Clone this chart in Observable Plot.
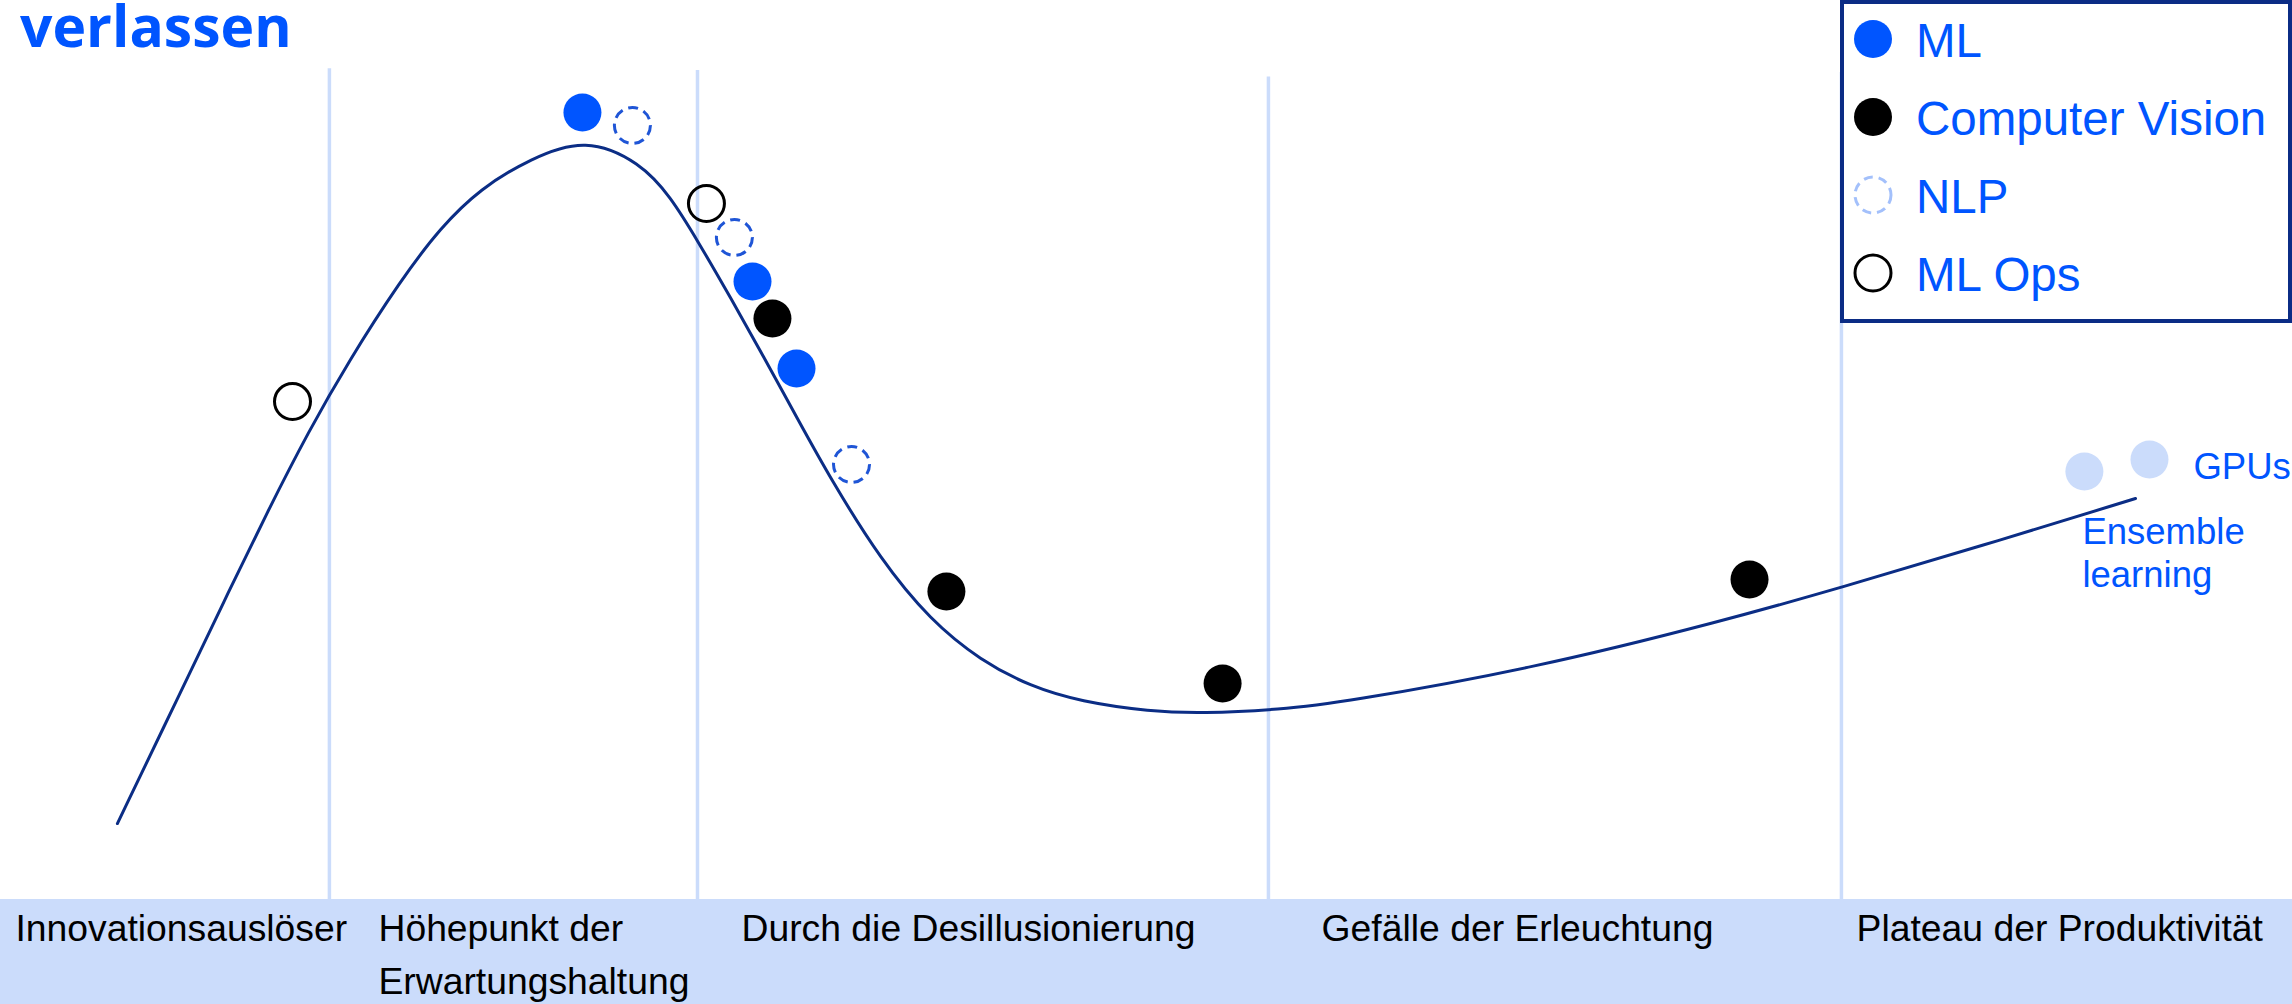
<!DOCTYPE html>
<html>
<head>
<meta charset="utf-8">
<script src="https://cdn.jsdelivr.net/npm/d3@7"></script>
<script src="https://cdn.jsdelivr.net/npm/@observablehq/plot@0.6"></script>
<style>
  html, body { margin: 0; padding: 0; background: #fff; }
  #wrap { position: relative; width: 2292px; height: 1004px; overflow: hidden; }
  #chart { position: absolute; left: 0; top: 0; }
  #title { position: absolute; left: 20px; top: 0; margin: 0; font: 700 57px "Open Sans", sans-serif; line-height: 0.9; color: #0055ff; white-space: nowrap; }
  #legend { position: absolute; left: 1840px; top: 0; width: 452px; height: 323px; box-sizing: border-box; border: 4px solid #0b2c85; background: #fff; }
  #legend .mk { position: absolute; left: 9px; width: 40px; height: 40px; }
  #legend .lb { position: absolute; left: 72px; font: 47.5px "Liberation Sans", Arial, sans-serif; line-height: 1; color: #0055ff; white-space: nowrap; }
</style>
</head>
<body>
<div id="wrap">
  <div id="chart"></div>
  <div id="title">verlassen</div>
  <div id="legend"></div>
</div>
<script>
// ---- Data (x: time 0–100, y: expectations 0–100) ----
const seriesNames = ["ML", "Computer Vision", "NLP", "ML Ops"];

const mlX = [25.39, 32.81, 34.73];
const mlY = [87.54, 68.74, 59.07];

const cvX = [33.68, 41.27, 53.32, 76.31];
const cvY = [64.63, 34.26, 24.03, 35.60];

const nlpX = [27.57, 32.02, 37.13];
const nlpY = [86.10, 73.64, 48.39];

const opsX = [12.74, 30.80];
const opsY = [55.39, 77.42];

const matureLabels = ["Ensemble learning", "GPUs"];
const matureX = [90.92, 93.76];
const matureY = [47.61, 48.94];

const curveX = [5.10, 7.85, 9.73, 11.65, 13.44, 15.18, 17.45, 19.20, 20.94, 23.12, 25.52, 27.92, 29.23, 30.41, 31.85, 33.29, 34.77, 36.21, 38.39, 40.58, 42.76, 44.94, 47.12, 50.17, 52.40, 55.85, 58.51, 66.88, 75.22, 80.32, 86.34, 93.15];
const curveY = [8.45, 23.03, 33.04, 43.16, 52.06, 59.84, 68.85, 74.75, 79.09, 82.42, 84.76, 81.98, 78.20, 73.30, 66.96, 60.40, 53.50, 46.83, 37.82, 31.03, 26.59, 23.69, 22.02, 20.91, 20.69, 21.13, 21.91, 25.70, 31.03, 34.71, 39.27, 44.60];

const phases = ["Innovationsauslöser", "Höhepunkt der\nErwartungshaltung", "Durch die Desillusionierung", "Gefälle der Erleuchtung", "Plateau der Produktivität"];
const phaseLabelX = [0.65, 16.49, 32.33, 57.64, 80.98];
const phaseBoundaries = [14.35, 30.41, 55.32, 80.32];
const boundaryTop = [92.4, 92.2, 91.5, 92.0];

// ---- Build tables ----
const zip = (xs, ys, extra = {}) => xs.map((x, i) => ({x, y: ys[i], ...Object.fromEntries(Object.entries(extra).map(([k, v]) => [k, v[i]]))}));
const ml = zip(mlX, mlY);
const cv = zip(cvX, cvY);
const nlp = zip(nlpX, nlpY);
const ops = zip(opsX, opsY);
const mature = zip(matureX, matureY, {label: matureLabels});
const curve = zip(curveX, curveY);
const phaseRows = phases.map((name, i) => ({name, x: phaseLabelX[i]}));
const rules = phaseBoundaries.map((x, i) => ({x, top: boundaryTop[i]}));

const BLUE = "#0055ff";
const LIGHT = "#cbdcfb";
const NAVY = "#0b2d85";
const SANS = "Liberation Sans, Arial, sans-serif";

const chart = Plot.plot({
  width: 2292,
  height: 1004,
  margin: 0,
  x: {domain: [0, 100], range: [0, 2292], axis: null},
  y: {domain: [0, 100], range: [899, 0], axis: null},
  style: {background: "transparent", fontFamily: SANS},
  marks: [
    // bottom phase band
    Plot.rect([0], {x1: 0, x2: 100, y1: 0, y2: -12, fill: LIGHT}),
    // phase separators
    Plot.ruleX(rules, {x: "x", y1: 0, y2: "top", stroke: LIGHT, strokeWidth: 3.5}),
    // hype curve
    Plot.line(curve, {x: "x", y: "y", curve: "basis", stroke: NAVY, strokeWidth: 3}),
    // series dots
    Plot.dot(mature, {x: "x", y: "y", r: 19, fill: LIGHT}),
    Plot.dot(ops, {x: "x", y: "y", r: 18, fill: "none", stroke: "#000", strokeWidth: 3}),
    Plot.dot(nlp, {x: "x", y: "y", r: 18, fill: "none", stroke: "#1f55d6", strokeWidth: 3, strokeDasharray: "10,6"}),
    Plot.dot(ml, {x: "x", y: "y", r: 19, fill: BLUE}),
    Plot.dot(cv, {x: "x", y: "y", r: 19, fill: "#000"}),
    // labels of mature technologies
    Plot.text(mature.filter(d => d.label === "GPUs"), {x: "x", y: "y", text: "label", textAnchor: "start", dx: 44, dy: 8, fontSize: 36.5, fill: BLUE}),
    Plot.text(mature.filter(d => d.label !== "GPUs"), {x: "x", y: "y", text: "label", textAnchor: "start", lineAnchor: "top", lineWidth: 6, lineHeight: 1.2, dx: -2, dy: 41, fontSize: 36.5, fill: BLUE}),
    // phase labels
    Plot.text(phaseRows, {x: "x", y: 0, text: "name", textAnchor: "start", lineAnchor: "top", lineHeight: 1.42, dy: 4.4, fontSize: 37.3, fill: "#000"})
  ]
});
document.getElementById("chart").appendChild(chart);

// ---- Legend ----
const legendMarks = [
  {fill: BLUE, stroke: "none", sw: 0, dash: null},
  {fill: "#000", stroke: "none", sw: 0, dash: null},
  {fill: "none", stroke: "#a3c0fb", sw: 3, dash: "9,6"},
  {fill: "none", stroke: "#000", sw: 3, dash: null}
];
const legend = d3.select("#legend");
seriesNames.forEach((name, i) => {
  const m = legendMarks[i];
  const svg = legend.append("svg").attr("class", "mk").attr("width", 40).attr("height", 40)
    .style("top", `${15 + 78 * i}px`);
  svg.append("circle").attr("cx", 20).attr("cy", 20).attr("r", m.sw ? 18 : 19)
    .attr("fill", m.fill).attr("stroke", m.stroke).attr("stroke-width", m.sw)
    .attr("stroke-dasharray", m.dash);
  legend.append("div").attr("class", "lb").style("top", `${13.3 + 78 * i}px`).text(name);
});
</script>
</body>
</html>
